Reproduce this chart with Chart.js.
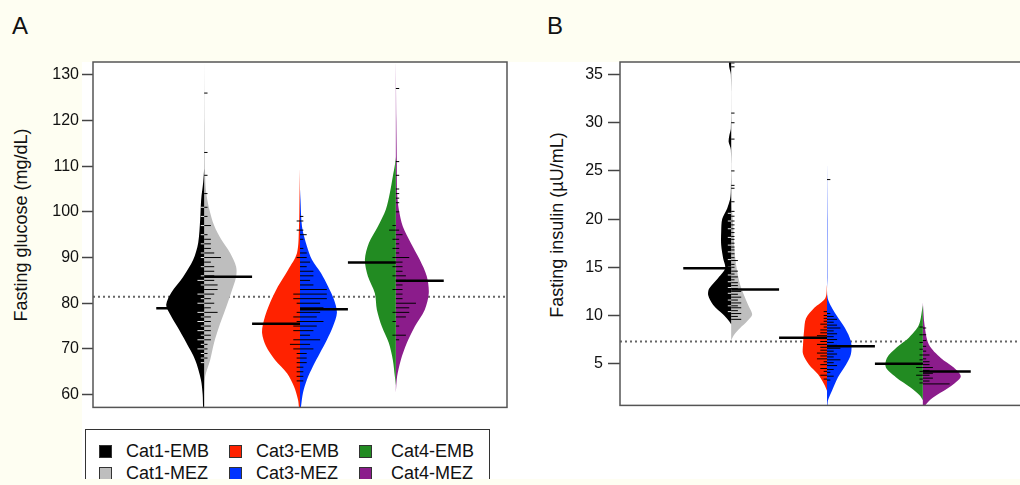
<!DOCTYPE html>
<html>
<head>
<meta charset="utf-8">
<script src="https://cdn.jsdelivr.net/npm/chart.js@4.4.1/dist/chart.umd.min.js"></script>
<style>
  html, body { margin: 0; padding: 0; width: 1020px; height: 485px; overflow: hidden; background: #fefef2; font-family: "Liberation Sans", Arial, sans-serif; color: #111; }
  #white { position: absolute; left: 82px; top: 62px; width: 938px; height: 417px; background: #fff; }
  #wrapA { position: absolute; left: 0; top: 0; width: 515px; height: 420px; }
  #wrapB { position: absolute; left: 520px; top: 0; width: 520px; height: 420px; }
  .panel { position: absolute; top: 14px; font-size: 24px; line-height: 24px; }
  .ytitle { position: absolute; top: 225px; font-size: 18px; white-space: nowrap; transform: translate(-50%, -50%) rotate(-90deg); }
  #legend { position: absolute; left: 85px; top: 429px; width: 405px; height: 70px; border: 1.5px solid #333; box-sizing: border-box; }
  .sw { position: absolute; width: 13px; height: 13px; box-sizing: border-box; border: 1px solid #333; }
  .lt { position: absolute; font-size: 18px; line-height: 18px; white-space: nowrap; }
  #cream { position: absolute; left: 0; top: 479px; width: 1020px; height: 6px; background: #fefef2; }
</style>
</head>
<body>
<div id="white"></div>
<div class="panel" style="left:12px">A</div>
<div class="panel" style="left:547px">B</div>
<div class="ytitle" style="left:21px">Fasting glucose (mg/dL)</div>
<div class="ytitle" style="left:557px">Fasting insulin (µU/mL)</div>
<div id="wrapA"><canvas id="chartA"></canvas></div>
<div id="wrapB"><canvas id="chartB"></canvas></div>
<div id="legend"></div>
<div id="cream"></div>
<script>
// categories and groups
const categories = ['Cat1', 'Cat3', 'Cat4'];
const groups = ['EMB', 'MEZ'];
const embColors = ['#000000', '#ff2200', '#228b22'];
const mezColors = ['#bebebe', '#0033ff', '#8b1c8b'];

// tick labels
const gluTicks = [60, 70, 80, 90, 100, 110, 120, 130];
const insTicks = [5, 10, 15, 20, 25, 30, 35];

// bean outlines: [value, half width]
const gluCat1Emb = [[56.5,0],[57.2,1],[60,1.5],[63.3,3.3],[67.6,9],[71.4,18],[74.9,27],[77.9,35],[79.7,38],[82.3,33],[85.8,21],[89.5,11],[93.2,6],[98.3,4],[102.7,3],[106.4,1],[109.5,0]];
const gluCat1Mez = [[60.4,0],[64,1],[67.6,6],[71.4,10],[74.9,15],[78.5,21],[82.3,27],[85.8,32],[88,32],[91,26],[94,17],[97,10],[100.7,5],[104.3,2],[108,1],[119,0.5],[133.5,0]];
const gluCat3Emb = [[56,0],[57.2,1],[58.9,2],[61.8,6],[64.7,13],[67.6,25],[70.6,34],[73.5,38],[76.4,36],[80.1,30],[83.7,22],[87.3,12],[91,3],[96.8,1],[103,0.5],[109.6,0]];
const gluCat3Mez = [[56,0],[57.4,1],[60.4,3],[63.3,7],[66.2,13],[69.1,20],[72,27],[74.9,33],[77.9,37],[80.8,34],[83.7,28],[86.6,21],[89.5,12],[92.4,7],[96.8,2],[102.7,0.5],[105,0]];
const gluCat4Emb = [[62,0],[64,1],[67.6,3],[71.3,7],[74.9,14],[78.6,19],[82.2,21],[85.9,28],[89.5,31],[93.2,27],[96.8,18],[100.5,10],[104.1,6],[107.8,3],[110.5,0.8],[112,0]];
const gluCat4Mez = [[60.4,0],[64,1.3],[67.6,5],[71.3,11],[74.9,19],[78.6,29],[82.2,33],[85.9,31],[89.5,24],[93.2,15],[96.8,7],[100.5,3],[104.1,1.3],[111.4,1],[120,0.5],[133.5,0]];

const insCat1Emb = [[9.1,0],[9.4,2],[10.1,8],[11.1,18],[12.1,23],[12.8,22],[13.9,13],[14.9,6],[15.9,8],[17.3,10],[18.7,10],[20,9],[21.1,4],[22.1,1],[23,0.3],[27.2,0.3],[28,2.5],[28.6,2],[29.4,0.3],[35,0.3],[35.8,2],[37,2],[37.5,0]];
const insCat1Mez = [[7.4,0],[8,3],[8.7,9],[9.4,16],[10.1,21],[11.1,17],[13.2,9],[15.2,5],[17.3,3],[19.4,2],[21.8,0.5],[30,0.3],[37.5,0]];
const insCat3Emb = [[2.2,0],[2.9,3],[3.9,9],[4.9,18],[6,24],[7,24],[8.4,23],[9.7,21],[10.8,12.7],[11.8,1.7],[13.2,0]];
const insCat3Mez = [[0,0],[0.7,0.5],[1.2,1],[2.2,5],[3.6,11],[4.9,19],[6,24],[7.3,24],[8.7,18],[10.1,9],[11.8,0.7],[14,0.4],[20,0.4],[26,0]];
const insCat4Emb = [[1.2,0],[1.7,3],[2.5,12],[3.6,27],[4.6,37],[5.6,36],[6.7,26],[7.7,14],[9,4],[11.1,0]];
const insCat4Mez = [[0,0],[0.6,2],[1.3,8],[2,18],[2.9,31],[3.7,38],[4.6,31],[5.6,18],[7,6],[9,1.7],[11.4,0]];

// bean lines: [observed value, count]
const gluCat1EmbLines = [[67,1],[68,1],[69,1],[70,2],[71,1],[72,2],[73,1],[74,2],[75,1],[76,2],[77,1],[78,2],[79,3],[80,2],[81,1],[82,2],[84,1],[85,2],[86,1],[88,1],[90,1],[91,1],[93,1],[95,1],[97,1],[99,1],[101,1]];
const gluCat1MezLines = [[68,1],[69,1],[70,1],[71,1],[72,2],[73,2],[74,2],[75,2],[76,2],[77,2],[78,4],[79,2],[80,3],[81,2],[82,3],[83,4],[84,4],[85,3],[86,3],[87,3],[88,3],[89,2],[90,5],[91,3],[92,2],[93,2],[94,2],[95,1],[97,2],[99,1],[101,1],[104,1],[108,1],[113,1],[126,1]];
const gluCat3EmbLines = [[63,1],[64,1],[65,1],[66,1],[67,1],[68,1],[69,1],[70,2],[71,3],[72,2],[74,2],[75,2],[76,1],[77,2],[78,1],[80,1],[81,2],[82,2],[90,1],[96,1],[98,1]];
const gluCat3MezLines = [[63,1],[64,1],[65,1],[66,1],[67,2],[68,2],[69,2],[70,4],[71,3],[72,6],[73,3],[74,4],[75,5],[76,7],[77,5],[78,6],[79,7],[80,6],[81,8],[82,8],[83,8],[84,4],[85,3],[86,4],[87,4],[88,2],[89,3],[90,2],[91,2],[92,1],[94,1],[95,2],[96,1],[98,1],[99,1]];
const gluCat4EmbLines = [[73,1],[76,1],[78,1],[83,1],[86,1],[88,1],[90,1],[92,1],[94,1],[96,2],[97,1]];
const gluCat4MezLines = [[72,1],[73,3],[75,1],[77,3],[78,4],[79,4],[80,6],[81,2],[82,2],[83,2],[84,2],[85,3],[86,3],[87,2],[88,2],[89,2],[90,4],[91,1],[92,1],[93,1],[94,1],[95,2],[96,1],[100,1],[102,1],[103,1],[104,1],[105,1],[108,1],[111,1],[127,1]];

const insCat1EmbLines = [[10.4,1],[11.0,1],[11.6,1],[12.3,1],[12.9,1],[13.5,1],[14.2,1],[15.0,1],[15.8,1],[16.6,1],[17.3,1],[18.1,1],[19.0,1],[19.8,1],[20.6,1]];
const insCat1MezLines = [[9.6,3],[9.9,2],[10.2,3],[10.5,2],[10.8,3],[11.0,2],[11.3,3],[11.6,2],[11.9,3],[12.2,2],[12.5,3],[12.8,2],[13.1,2],[13.4,2],[13.7,1],[14.0,2],[14.3,1],[14.6,2],[15.0,1],[15.3,1],[15.7,2],[16.0,1],[16.4,1],[16.8,1],[17.1,1],[17.5,1],[17.9,1],[18.2,1],[18.6,1],[19.0,1],[19.4,1],[19.8,1],[20.3,1],[20.8,1],[21.8,1],[23.2,1],[23.5,1],[25.0,1],[28.3,1],[30.0,1],[31.0,1],[35.8,1],[36.2,1]];
const insCat3EmbLines = [[3.4,1],[3.8,2],[4.2,1],[4.5,2],[4.9,2],[5.2,1],[5.5,3],[5.8,2],[6.1,3],[6.4,2],[6.7,2],[7.0,3],[7.3,2],[7.6,2],[7.9,3],[8.2,2],[8.5,2],[8.8,1],[9.1,2],[9.4,1],[9.7,1],[10.0,1],[10.4,1]];
const insCat3MezLines = [[3.3,1],[3.7,2],[4.1,1],[4.4,2],[4.8,3],[5.1,2],[5.4,4],[5.7,2],[6.0,3],[6.3,2],[6.6,4],[6.9,3],[7.2,2],[7.5,3],[7.8,2],[8.1,3],[8.4,2],[8.7,4],[9.0,3],[9.3,2],[9.6,3],[9.9,2],[10.2,1],[24.1,1]];
const insCat4EmbLines = [[3.0,1],[3.4,1],[3.8,2],[4.2,1],[4.6,2],[5.0,1],[5.4,1],[5.9,1],[6.5,1],[7.2,1],[8.0,1],[8.8,1]];
const insCat4MezLines = [[2.9,8],[3.2,2],[3.5,3],[3.8,2],[4.0,3],[4.3,2],[4.6,3],[4.9,2],[5.2,2],[5.5,1],[5.9,2],[6.3,1],[6.8,1],[7.4,1],[8.0,1],[8.7,1]];

// group means and overall reference line
const gluEmbMeans = [78.9, 75.5, 88.9];
const gluMezMeans = [85.8, 78.7, 84.9];
const insEmbMeans = [14.9, 7.7, 5.0];
const insMezMeans = [12.7, 6.8, 4.2];
const gluOverall = 81.4;
const insOverall = 7.3;


const xMin = -0.16, xMax = 4.16;
const densityToX = 1 / 96;
const countToX = 0.035;
const meanLen = 0.5;

function halfBean(center, side, dens, color) {
    return {
        data: dens.map(([v, w]) => ({x: center + side * w * densityToX, y: v})),
        fill: 'shape',
        backgroundColor: color,
        borderColor: 'rgba(0,0,0,0)',
        borderWidth: 0,
        tension: 0.3,
        order: 3
    };
}

function beanLines(center, side, lines, color) {
    const data = [];
    lines.forEach(([v, n]) => {
        data.push({x: center, y: v}, {x: center + side * n * countToX, y: v}, {x: center, y: null});
    });
    return {data: data, fill: false, borderColor: color, borderWidth: 1, order: 2};
}

function meanLines(embMeans, mezMeans) {
    const data = [];
    embMeans.forEach((m, i) => {
        data.push({x: i + 1 - meanLen, y: m}, {x: i + 1, y: m}, {x: i + 1, y: null});
    });
    mezMeans.forEach((m, i) => {
        data.push({x: i + 1, y: m}, {x: i + 1 + meanLen, y: m}, {x: i + 1, y: null});
    });
    return {data: data, fill: false, borderColor: '#000', borderWidth: 2.5, order: 1};
}

const frame = {
    id: 'frame',
    afterDraw(chart) {
        const {ctx, chartArea: a} = chart;
        ctx.save();
        ctx.strokeStyle = '#555';
        ctx.lineWidth = 1.5;
        ctx.strokeRect(a.left, a.top, a.right - a.left, a.bottom - a.top);
        ctx.restore();
    }
};

function makeChart(id, opts) {
    const datasets = [];
    datasets.push({
        data: [{x: xMin, y: opts.overall}, {x: xMax, y: opts.overall}],
        fill: false, borderColor: '#666', borderWidth: 2, borderDash: [2, 3], order: 4
    });
    opts.emb.forEach((d, i) => datasets.push(halfBean(i + 1, -1, d, embColors[i])));
    opts.mez.forEach((d, i) => datasets.push(halfBean(i + 1, 1, d, mezColors[i])));
    opts.embLines.forEach((l, i) => datasets.push(beanLines(i + 1, -1, l, i === 0 ? '#e6e6e6' : '#000')));
    opts.mezLines.forEach((l, i) => datasets.push(beanLines(i + 1, 1, l, '#000')));
    datasets.push(meanLines(opts.embMeans, opts.mezMeans));

    return new Chart(document.getElementById(id), {
        type: 'line',
        data: {datasets: datasets},
        options: {
            responsive: true,
            maintainAspectRatio: false,
            animation: false,
            events: [],
            layout: {padding: opts.padding},
            elements: {point: {radius: 0}},
            plugins: {legend: {display: false}, tooltip: {enabled: false}},
            scales: {
                x: {type: 'linear', min: xMin, max: xMax, display: false},
                y: {
                    type: 'linear',
                    min: opts.min,
                    max: opts.max,
                    afterBuildTicks: (s) => { s.ticks = opts.ticks.map(v => ({value: v})); },
                    afterFit: (s) => { s.width = opts.axisWidth; },
                    border: {display: false},
                    grid: {drawOnChartArea: false, drawTicks: true, tickLength: opts.tickLength, tickColor: '#444', tickWidth: 1.5},
                    ticks: {color: '#111', padding: opts.tickPad, font: {family: 'Liberation Sans', size: 16}}
                }
            }
        },
        plugins: [frame]
    });
}

makeChart('chartA', {
    emb: [gluCat1Emb, gluCat3Emb, gluCat4Emb],
    mez: [gluCat1Mez, gluCat3Mez, gluCat4Mez],
    embLines: [gluCat1EmbLines, gluCat3EmbLines, gluCat4EmbLines],
    mezLines: [gluCat1MezLines, gluCat3MezLines, gluCat4MezLines],
    embMeans: gluEmbMeans, mezMeans: gluMezMeans, overall: gluOverall,
    min: 57.2, max: 132.8, ticks: gluTicks,
    padding: {left: 0, top: 62, right: 8, bottom: 12},
    axisWidth: 93, tickLength: 11, tickPad: 3
});

makeChart('chartB', {
    emb: [insCat1Emb, insCat3Emb, insCat4Emb],
    mez: [insCat1Mez, insCat3Mez, insCat4Mez],
    embLines: [insCat1EmbLines, insCat3EmbLines, insCat4EmbLines],
    mezLines: [insCat1MezLines, insCat3MezLines, insCat4MezLines],
    embMeans: insEmbMeans, mezMeans: insMezMeans, overall: insOverall,
    min: 0.67, max: 36.3, ticks: insTicks,
    padding: {left: 0, top: 62, right: 6, bottom: 12},
    axisWidth: 100, tickLength: 12, tickPad: 5
});

// legend, EMB on the first row, MEZ on the second
const legend = document.getElementById('legend');
const colX = [13, 143, 273];
const rowY = [15, 37];
categories.forEach((c, i) => {
    groups.forEach((g, j) => {
        const sw = document.createElement('div');
        sw.className = 'sw';
        sw.style.left = colX[i] + 'px';
        sw.style.top = rowY[j] + 'px';
        sw.style.background = j === 0 ? embColors[i] : mezColors[i];
        legend.appendChild(sw);
        const t = document.createElement('div');
        t.className = 'lt';
        t.style.left = (colX[i] + 27 + (i === 2 ? 5 : 0)) + 'px';
        t.style.top = (rowY[j] - 3) + 'px';
        t.textContent = c + '-' + g;
        legend.appendChild(t);
    });
});
</script>
</body>
</html>
